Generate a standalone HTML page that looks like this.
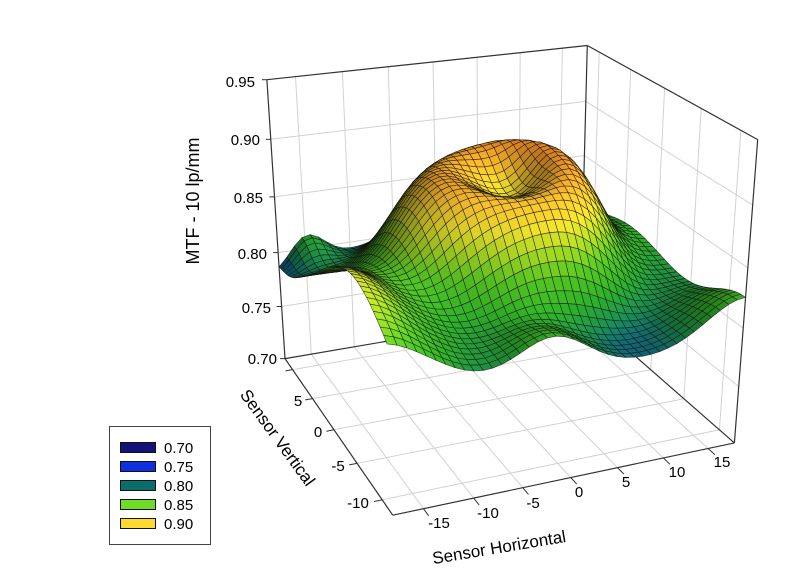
<!DOCTYPE html>
<html><head><meta charset="utf-8">
<style>
html,body{margin:0;padding:0;background:#fff;}
svg{display:block;font-family:"Liberation Sans",Arial,sans-serif;}
</style></head>
<body>
<svg id="s" width="802" height="588" viewBox="0 0 802 588" xmlns="http://www.w3.org/2000/svg">
<rect width="802" height="588" fill="#fff"/>
<g id="back"></g>
<g id="surf"></g>
<g id="front"></g>
<g font-size="15" fill="#000" text-anchor="end">
<text x="255" y="87">0.95</text>
<text x="260" y="145">0.90</text>
<text x="263" y="203">0.85</text>
<text x="267" y="259">0.80</text>
<text x="271" y="313">0.75</text>
<text x="277" y="364">0.70</text>
</g>
<g font-size="15" fill="#000" text-anchor="middle">
<text x="298" y="406">5</text>
<text x="318" y="437">0</text>
<text x="338" y="471">-5</text>
<text x="358" y="508">-10</text>
<text x="439" y="528">-15</text>
<text x="488" y="518">-10</text>
<text x="533" y="508">-5</text>
<text x="579" y="497">0</text>
<text x="626" y="487">5</text>
<text x="677" y="477">10</text>
<text x="722" y="467">15</text>
</g>
<text font-size="18" text-anchor="middle" transform="translate(199,201) rotate(-90)">MTF - 10 lp/mm</text>
<text font-size="17" text-anchor="middle" transform="translate(273,441) rotate(54)">Sensor Vertical</text>
<text font-size="17" text-anchor="middle" transform="translate(500,553) rotate(-9.5)">Sensor Horizontal</text>
<g>
<rect x="109.5" y="426.5" width="101" height="118" fill="#fff" stroke="#444" stroke-width="1"/>
<rect x="120.5" y="442.5" width="35" height="10" fill="#12127a" stroke="#111" stroke-width="1"/>
<rect x="120.5" y="461.5" width="35" height="10" fill="#1030e0" stroke="#111" stroke-width="1"/>
<rect x="120.5" y="480.5" width="35" height="10" fill="#0c6e6a" stroke="#111" stroke-width="1"/>
<rect x="120.5" y="499.5" width="35" height="10" fill="#70dc28" stroke="#111" stroke-width="1"/>
<rect x="120.5" y="518.5" width="35" height="10" fill="#ffd830" stroke="#111" stroke-width="1"/>
<g font-size="15" fill="#000">
<text x="164" y="453">0.70</text>
<text x="164" y="472">0.75</text>
<text x="164" y="491">0.80</text>
<text x="164" y="510">0.85</text>
<text x="164" y="529">0.90</text>
</g>
</g>
</svg>
<script>
(function(){
const NS="http://www.w3.org/2000/svg";
const pts=[
[-1,1,-1,285,358.3],
[-1,1,1,266,80],
[1,1,1,586.7,45],
[1,-1,1,757.3,139.3],
[1,-1,-1,733.3,442.3],
[-1,-1,-1,392.7,513.3],
[0,-1,-1,571.7,477.7],
[-1,0,-1,334,429.3],
[-1,1,-0.2,277.8,253],
[-15/18,-1,-1,423.3,509.3],
[-10/18,-1,-1,473.3,499.3],
[5/18,-1,-1,618.3,468.3],
[10/18,-1,-1,663.3,458.3],
[15/18,-1,-1,708.3,448.3],
[1,0,1,665,88.3],
[-15/18,1,1,296.7,76.6],
[1,1,0.6,586.3,101.7]
];
const n=11;const A=[];for(let i=0;i<n;i++)A.push(new Array(n+1).fill(0));
function addRow(r,b){for(let i=0;i<n;i++){for(let j=0;j<n;j++)A[i][j]+=r[i]*r[j];A[i][n]+=r[i]*b;}}
for(const p of pts){const X=p[0],Y=p[1],Z=p[2];const u=(p[3]-500)/250,v=(p[4]-300)/250;
addRow([X,Y,Z,1,0,0,0,0,-u*X,-u*Y,-u*Z],u);
addRow([0,0,0,0,X,Y,Z,1,-v*X,-v*Y,-v*Z],v);}
for(let c=0;c<n;c++){let p=c;for(let r=c+1;r<n;r++)if(Math.abs(A[r][c])>Math.abs(A[p][c]))p=r;
const t=A[c];A[c]=A[p];A[p]=t;
for(let r=0;r<n;r++){if(r===c)continue;const f=A[r][c]/A[c][c];for(let k=c;k<=n;k++)A[r][k]-=f*A[c][k];}}
const P=A.map((row,i)=>row[n]/row[i]);
function proj(x,y,z){const X=x/18,Y=y/12,Z=(z-0.825)/0.125;
const w=P[8]*X+P[9]*Y+P[10]*Z+1;
return [((P[0]*X+P[1]*Y+P[2]*Z+P[3])/w)*250+500,((P[4]*X+P[5]*Y+P[6]*Z+P[7])/w)*250+300,w];}
const back=document.getElementById('back');
function line(g,a,b,col,wd){const l=document.createElementNS(NS,'line');
l.setAttribute('x1',a[0].toFixed(1));l.setAttribute('y1',a[1].toFixed(1));
l.setAttribute('x2',b[0].toFixed(1));l.setAttribute('y2',b[1].toFixed(1));
l.setAttribute('stroke',col);l.setAttribute('stroke-width',wd);g.appendChild(l);}
const GC='#d2d2d2';
for(let x=-15;x<=15;x+=5){line(back,proj(x,12,0.70),proj(x,12,0.95),GC,1);line(back,proj(x,-12,0.70),proj(x,12,0.70),GC,1);}
for(let y=-10;y<=10;y+=5){line(back,proj(18,y,0.70),proj(18,y,0.95),GC,1);line(back,proj(-18,y,0.70),proj(18,y,0.70),GC,1);}
for(const z of [0.75,0.80,0.85,0.90]){line(back,proj(-18,12,z),proj(18,12,z),GC,1);line(back,proj(18,-12,z),proj(18,12,z),GC,1);}
const EC='#333';
const Ap=proj(-18,12,0.70),Bp=proj(-18,12,0.95),Cp=proj(18,12,0.95),Dp=proj(18,-12,0.95),Ep=proj(18,-12,0.70),Fp=proj(-18,-12,0.70),Kp=proj(18,12,0.70);
[[Ap,Bp],[Bp,Cp],[Cp,Dp],[Dp,Ep],[Ap,Kp],[Kp,Ep],[Cp,Kp],[Ap,Fp],[Fp,Ep]].forEach(e=>line(back,e[0],e[1],EC,1.2));
for(let i=0;i<=5;i++){const z=0.70+i*0.05;const p=proj(-18,12,z);line(back,p,[p[0]-5,p[1]],EC,1);}
for(let y=-10;y<=10;y+=5){line(back,proj(-18,y,0.70),proj(-18.8,y,0.70),EC,1);}
for(let x=-15;x<=15;x+=5){line(back,proj(x,-12,0.70),proj(x,-12.9,0.70),EC,1);}
function g2(x,y,cx,cy,s){const d=(x-cx)*(x-cx)+(y-cy)*(y-cy);return Math.exp(-d/(2*s*s));}
function ga(x,y,cx,cy,sx,sy){const a=(x-cx)/sx,b=(y-cy)/sy;return Math.exp(-(a*a+b*b)/2);}
function f(x,y){
 const cx=3,cy=3;let dx=x-cx;if(dx<0)dx*=0.8;const dy=(y-cy)*1.1;const r=Math.hypot(dx,dy);
 let z=0.79;
 z+=0.11*Math.exp(-Math.pow(r/10,4));
 z-=0.035*Math.exp(-(r*r)/(4.2*4.2));
 z+=0.006*Math.exp(-Math.pow(r/8,4))*((dx+dy)/(r+1e-6))*Math.min(1,r/4);
 z+=0.028*g2(x,y,-15,12,2);
 z-=0.015*g2(x,y,-18,12,3);
 z+=0.07*ga(x,y,-19,-6,5,7);
 z+=0.02*ga(x,y,-9,-1,4.5,6);
 z+=0.03*g2(x,y,-2,-12,3.5);
 z+=0.035*g2(x,y,18,-12,4);
 z+=0.025*g2(x,y,18,4,6);
 return z;}
const stops=[[0.70,[18,18,122]],[0.75,[16,48,224]],[0.78,[20,70,170]],[0.79,[16,100,140]],[0.80,[25,140,80]],[0.815,[45,175,40]],[0.835,[90,205,35]],[0.85,[170,225,35]],[0.865,[245,232,45]],[0.88,[250,195,45]],[0.895,[242,145,35]],[0.93,[230,100,20]]];
function cmap(z){if(z<=stops[0][0])return stops[0][1];for(let i=1;i<stops.length;i++){if(z<=stops[i][0]){const t=(z-stops[i-1][0])/(stops[i][0]-stops[i-1][0]);return stops[i-1][1].map((c,k)=>c+(stops[i][1][k]-c)*t);}}return stops[stops.length-1][1];}
const N=40,M=40;const Z=[],PP=[];
for(let i=0;i<=N;i++){Z.push([]);PP.push([]);for(let j=0;j<=M;j++){const x=-18+36*i/N,y=-12+24*j/M;const z=f(x,y);Z[i].push(z);PP[i].push(proj(x,y,z));}}
let L=[0.35,-0.55,0.76];const ln=Math.hypot(L[0],L[1],L[2]);L=L.map(v=>v/ln);
const wK=proj(18,12,0.70)[2],wF=proj(-18,-12,0.70)[2];const sgn=wK>wF?1:-1;
const cells=[];const dxw=(36/N)/36,dyw=(24/M)/36;
for(let i=0;i<N;i++)for(let j=0;j<M;j++){
 const z00=Z[i][j],z10=Z[i+1][j],z01=Z[i][j+1],z11=Z[i+1][j+1];
 const k=0.75/0.25;
 const gx=((z10+z11)-(z00+z01))/2*k/dxw,gy=((z01+z11)-(z00+z10))/2*k/dyw;
 let nx=-gx,ny=-gy,nz=1;const nn=Math.hypot(nx,ny,nz);nx/=nn;ny/=nn;nz/=nn;
 const d=nx*L[0]+ny*L[1]+nz*L[2];
 let s=0.45+0.6*Math.max(0,d);if(s>1.08)s=1.08;
 const c=cmap((z00+z10+z01+z11)/4).map(v=>Math.max(0,Math.min(255,Math.round(v*s))));
 const p=[PP[i][j],PP[i+1][j],PP[i+1][j+1],PP[i][j+1]];
 const w=(p[0][2]+p[1][2]+p[2][2]+p[3][2])/4;
 cells.push({p,c,w});}
cells.sort((a,b)=>sgn*(b.w-a.w));
const sg=document.getElementById('surf');let html='';
for(const cl of cells){html+='<polygon points="'+cl.p.map(q=>q[0].toFixed(1)+','+q[1].toFixed(1)).join(' ')+'" fill="rgb('+cl.c.join(',')+')" stroke="rgba(15,15,15,0.75)" stroke-width="0.6" stroke-linejoin="round"/>';}
sg.innerHTML=html;
})();
</script>
</body></html>
